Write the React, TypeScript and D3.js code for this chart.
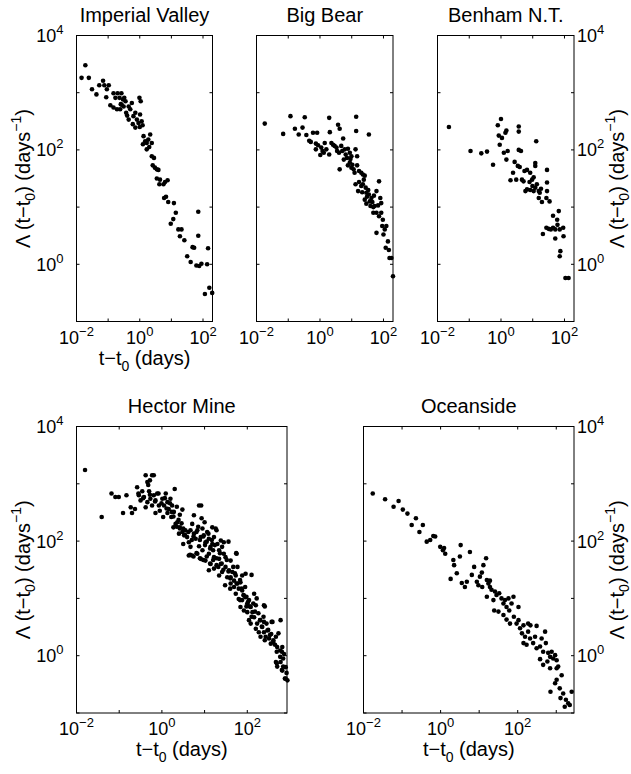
import React, { useEffect, useRef } from "react";
import * as d3 from "d3";

const width = 631;
const height = 774;
const font = "'Liberation Sans', Arial, Helvetica, sans-serif";

// every point as [log10(t - t0 in days), log10(rate in 1/days)]
const imperialValley = [
    [-1.84, 3.26], [-1.72, 3.48], [-1.61, 3.26], [-1.51, 3.06], [-1.37, 2.97], [-1.28, 3.13],
    [-1.16, 3.21], [-1.12, 3.13], [-1.04, 3.06], [-0.98, 3.13], [-1.06, 2.92], [-0.93, 2.78],
    [-0.83, 2.99], [-0.77, 2.91], [-0.70, 2.99], [-0.64, 2.91], [-0.58, 2.99], [-0.53, 2.88],
    [-0.49, 2.91], [-0.45, 2.85], [-0.83, 2.74], [-0.72, 2.71], [-0.62, 2.71], [-0.51, 2.76],
    [-0.43, 2.65], [-0.35, 2.53], [-0.30, 2.71], [-0.25, 2.82], [-0.20, 2.59], [-0.14, 2.65],
    [-0.09, 2.53], [-0.01, 2.91], [0.03, 2.85], [0.01, 2.62], [0.06, 2.50], [-0.04, 2.47],
    [0.09, 2.43], [-0.14, 2.39], [-0.35, 2.76], [-0.57, 2.79], [0.12, 2.24], [0.17, 2.15],
    [0.22, 2.12], [0.33, 2.27], [0.27, 2.18], [0.38, 2.12], [0.22, 2.01], [0.38, 1.89],
    [0.45, 1.86], [0.41, 1.73], [0.48, 1.69], [0.54, 1.66], [0.59, 1.65], [0.54, 1.50],
    [0.64, 1.48], [0.75, 1.40], [0.80, 1.44], [0.88, 1.47], [0.62, 1.40], [0.77, 1.16],
    [0.83, 1.18], [0.90, 1.09], [1.08, 1.07], [1.14, 0.90], [1.06, 0.79], [0.98, 0.71],
    [1.22, 0.61], [1.32, 0.61], [1.27, 0.49], [1.41, 0.42], [1.67, 0.30], [1.72, 0.29],
    [1.85, 0.92], [1.85, 0.50], [1.50, 0.14], [1.61, 0.04], [1.79, -0.02], [1.88, -0.03],
    [1.95, 0.01], [2.13, 0.00], [2.16, 0.28], [2.06, -0.52], [2.20, -0.41], [2.29, -0.50],
    [-0.40, 2.60], [-0.22, 2.45], [0.00, 2.40], [-0.60, 2.80], [0.30, 2.05], [0.10, 2.10]
];

const bigBear = [
    [-1.74, 2.46], [-1.16, 2.28], [-0.93, 2.59], [-0.79, 2.37], [-0.55, 2.39], [-0.48, 2.57],
    [-0.67, 2.27], [-0.43, 2.26], [-0.34, 2.16], [-0.29, 2.14], [-0.22, 2.30], [-0.09, 2.30],
    [-0.13, 2.11], [-0.06, 2.08], [-0.13, 2.01], [0.04, 2.04], [0.08, 1.98], [0.01, 1.91],
    [0.12, 1.95], [0.15, 2.12], [0.20, 2.01], [0.29, 2.56], [0.31, 2.31], [0.36, 2.12],
    [0.41, 2.09], [0.46, 2.07], [0.29, 1.92], [0.52, 2.04], [0.57, 2.44], [0.62, 2.37],
    [0.54, 1.98], [0.60, 1.95], [0.67, 2.07], [0.73, 2.20], [0.78, 2.01], [0.81, 1.92],
    [0.75, 1.83], [0.85, 1.86], [0.88, 2.02], [0.94, 1.95], [0.99, 1.89], [1.14, 2.58],
    [1.14, 2.33], [1.12, 2.01], [1.17, 1.89], [0.94, 1.78], [0.88, 1.73], [0.99, 1.69],
    [1.06, 1.66], [1.09, 1.60], [1.17, 1.73], [1.23, 1.63], [1.30, 1.60], [1.35, 1.57],
    [1.41, 1.55], [1.54, 2.27], [0.62, 1.66], [1.12, 1.40], [1.23, 1.44], [1.30, 1.37],
    [1.35, 1.40], [1.44, 1.34], [1.20, 1.28], [1.33, 1.26], [1.46, 1.25], [1.48, 1.18],
    [1.54, 1.22], [1.62, 1.16], [1.41, 1.13], [1.46, 1.06], [1.57, 1.10], [1.65, 1.09],
    [1.78, 1.28], [1.86, 1.45], [1.72, 1.02], [1.83, 1.03], [1.90, 1.16], [1.93, 1.07],
    [1.68, 0.90], [1.78, 0.90], [1.86, 0.84], [1.93, 0.90], [1.98, 0.78], [1.68, 1.00],
    [1.59, 1.02], [1.78, 0.55], [1.96, 0.67], [2.04, 0.61], [2.09, 0.67], [2.00, 0.52],
    [2.14, 0.40], [2.07, 0.29], [2.17, 0.25], [2.25, 0.11], [2.19, 0.11], [2.30, -0.21],
    [0.70, 1.98], [0.96, 1.84], [1.02, 1.74], [1.38, 1.48], [1.52, 1.30], [1.70, 1.20]
];

const benham = [
    [-1.64, 2.40], [-0.96, 1.98], [-0.62, 1.94], [-0.44, 1.97], [-0.25, 1.74], [-0.10, 2.43],
    [0.00, 2.54], [-0.07, 2.25], [-0.04, 2.09], [0.03, 2.21], [0.14, 2.30], [0.17, 2.34],
    [0.09, 1.95], [0.21, 1.98], [0.17, 1.83], [0.30, 1.47], [0.38, 1.60], [0.48, 1.48],
    [0.43, 1.79], [0.56, 2.41], [0.56, 2.32], [0.56, 2.00], [0.63, 1.98], [0.53, 1.72],
    [0.59, 1.70], [0.66, 1.48], [0.71, 1.45], [0.74, 1.63], [0.82, 1.65], [0.77, 1.28],
    [0.82, 1.31], [0.90, 1.44], [0.92, 1.60], [0.98, 1.48], [1.03, 1.52], [1.08, 1.77],
    [1.08, 1.72], [1.11, 2.15], [0.99, 1.37], [1.08, 1.34], [1.13, 1.40], [1.03, 1.28],
    [0.92, 1.30], [1.19, 1.28], [1.22, 1.25], [1.26, 1.32], [1.19, 1.16], [1.29, 1.09],
    [1.45, 1.65], [1.45, 1.43], [1.45, 1.28], [1.43, 1.16], [1.53, 1.10], [1.82, 0.93],
    [1.64, 0.85], [1.77, 0.78], [1.43, 0.64], [1.50, 0.62], [1.57, 0.61], [1.64, 0.64],
    [1.71, 0.61], [1.78, 0.69], [1.85, 0.61], [1.96, 0.64], [1.32, 0.53], [1.71, 0.45],
    [1.97, 0.49], [1.87, 0.23], [1.85, 0.14], [2.03, -0.24], [2.13, -0.24]
];

const hectorMine = [
    [-1.80, 3.24], [-1.41, 2.42], [-1.18, 2.83], [-1.09, 2.77], [-1.01, 2.77], [-0.91, 2.49],
    [-0.83, 2.80], [-0.73, 2.59], [-0.70, 2.49], [-0.63, 2.56], [-0.58, 2.94], [-0.54, 2.80],
    [-0.50, 2.71], [-0.46, 2.87], [-0.42, 2.77], [-0.38, 3.15], [-0.34, 3.03], [-0.30, 2.87],
    [-0.28, 3.06], [-0.23, 3.15], [-0.19, 3.15], [-0.38, 2.59], [-0.34, 2.68], [-0.27, 2.74],
    [-0.23, 2.62], [-0.19, 2.80], [-0.15, 2.71], [-0.11, 2.83], [-0.07, 2.62], [-0.15, 2.49],
    [-0.05, 2.53], [0.01, 2.74], [0.05, 2.62], [0.09, 2.83], [0.13, 2.68], [0.16, 2.56],
    [0.20, 2.74], [0.24, 2.62], [0.13, 2.49], [0.03, 2.42], [0.22, 2.42], [0.28, 2.51],
    [0.30, 2.91], [0.32, 2.30], [0.27, 2.24], [0.36, 2.33], [0.42, 2.24], [0.48, 2.55],
    [0.48, 2.16], [0.40, 2.13], [0.52, 2.10], [0.55, 2.19], [0.59, 2.07], [0.63, 1.98],
    [0.71, 2.30], [0.67, 2.19], [0.75, 2.13], [0.79, 2.04], [0.83, 2.19], [0.87, 2.62],
    [0.92, 2.62], [0.91, 2.07], [0.95, 2.22], [0.98, 2.10], [1.02, 1.98], [1.06, 2.16],
    [1.10, 2.04], [1.14, 1.90], [1.18, 1.95], [1.22, 2.07], [1.26, 2.22], [1.30, 1.95],
    [1.34, 1.84], [1.38, 2.01], [1.41, 1.90], [1.45, 1.78], [1.49, 1.72], [1.34, 1.69],
    [1.22, 1.72], [1.10, 1.78], [0.95, 1.84], [0.83, 1.78], [0.71, 1.75], [0.63, 1.75],
    [0.91, 1.69], [1.02, 1.66], [1.14, 1.60], [1.22, 1.52], [1.10, 1.49], [1.28, 1.58],
    [1.38, 1.60], [1.49, 1.55], [1.57, 1.49], [1.53, 1.37], [1.61, 1.37], [1.65, 1.46],
    [1.69, 1.31], [1.73, 1.40], [1.75, 1.78], [1.41, 1.46], [1.34, 1.40], [1.61, 1.26],
    [1.69, 1.20], [1.77, 1.26], [1.80, 1.17], [1.84, 1.28], [1.88, 1.14], [1.96, 1.43],
    [1.92, 1.05], [1.73, 1.08], [1.80, 0.99], [1.88, 0.97], [1.96, 1.02], [2.00, 0.91],
    [2.04, 0.97], [2.08, 0.85], [1.84, 0.85], [1.92, 0.79], [2.00, 0.76], [2.12, 0.76],
    [2.20, 0.88], [2.16, 0.67], [2.04, 0.62], [2.08, 0.56], [2.23, 0.56], [2.30, 0.62],
    [2.35, 0.50], [2.39, 0.59], [2.20, 0.47], [2.27, 0.41], [2.39, 0.41], [2.43, 0.33],
    [2.31, 0.33], [2.47, 0.44], [2.51, 0.30], [2.56, 0.38], [2.61, 0.24], [2.55, 0.21],
    [2.67, 0.33], [2.78, 0.62], [2.70, 0.15], [2.77, 0.09], [2.82, 0.15], [2.86, 0.03],
    [2.67, -0.11], [2.70, -0.19], [2.78, -0.11], [2.84, -0.05], [2.90, -0.20], [2.82, -0.26],
    [2.92, -0.30], [2.90, -0.40], [2.94, -0.43], [0.75, 2.45], [1.00, 2.33], [1.18, 2.24],
    [1.45, 1.98], [1.61, 1.66], [1.77, 1.55], [1.88, 1.40], [2.16, 1.08], [2.39, 0.88],
    [2.59, 0.59], [0.67, 1.90], [0.50, 1.95], [0.87, 1.91],
    // second pass over the dense band
    [-0.55, 2.83], [-0.44, 2.75], [-0.32, 2.98], [-0.28, 2.81], [-0.16, 2.69], [-0.08, 2.83],
    [-0.01, 2.66], [0.07, 2.75], [0.11, 2.57], [0.19, 2.66], [0.23, 2.51], [0.27, 2.43],
    [0.35, 2.60], [0.39, 2.37], [0.42, 2.46], [0.46, 2.31], [0.50, 2.22], [0.42, 2.22],
    [0.35, 2.25], [0.54, 2.11], [0.62, 2.16], [0.70, 2.02], [0.74, 2.08], [0.81, 2.16],
    [0.85, 2.25], [0.93, 2.40], [0.89, 2.02], [0.97, 2.08], [1.01, 1.93], [1.05, 1.99],
    [1.09, 2.13], [1.13, 1.87], [1.17, 2.02], [1.20, 1.84], [1.24, 1.93], [1.28, 2.19],
    [0.66, 1.76], [0.74, 1.73], [0.81, 1.79], [0.89, 1.70], [0.97, 1.67], [1.05, 1.73],
    [1.13, 1.61], [1.20, 1.67], [1.28, 1.70], [1.32, 1.55], [1.40, 1.61], [1.44, 1.50],
    [1.36, 1.79], [1.52, 1.67], [1.56, 1.99], [1.56, 1.47], [1.60, 1.35], [1.67, 1.55],
    [1.71, 1.44], [1.74, 1.79], [1.75, 1.26], [1.48, 1.23], [1.60, 1.17], [1.83, 1.32],
    [1.87, 1.17], [1.91, 1.06], [1.95, 1.20], [1.98, 1.03], [2.02, 0.94], [2.10, 1.41],
    [2.06, 0.86], [2.14, 0.91], [2.22, 1.00], [2.18, 0.77], [2.26, 0.74], [2.30, 0.62],
    [2.38, 0.68], [2.41, 0.86], [2.45, 0.56], [2.34, 0.51], [2.49, 0.45], [2.53, 0.36],
    [2.57, 0.59], [2.41, 0.27], [2.61, 0.27], [2.65, 0.19], [2.73, 0.39], [2.69, 0.07],
    [2.77, -0.02], [2.81, 0.07], [2.69, -0.13], [2.84, -0.19], [2.88, -0.40], [2.81, -0.25],
    [1.98, 0.86], [2.10, 0.68], [1.83, 0.97]
];

const oceanside = [
    [-1.76, 2.83], [-1.44, 2.73], [-1.22, 2.60], [-1.09, 2.70], [-0.98, 2.55], [-0.86, 2.48],
    [-0.64, 2.40], [-0.75, 2.28], [-0.55, 2.16], [-0.46, 2.28], [-0.36, 1.99], [-0.27, 2.02],
    [-0.19, 2.09], [-0.14, 2.08], [-0.01, 1.90], [0.06, 1.84], [0.09, 1.88], [0.12, 1.78],
    [0.33, 1.67], [0.35, 1.58], [0.52, 1.93], [0.50, 1.73], [0.26, 1.34], [0.42, 1.44],
    [0.55, 1.27], [0.63, 1.20], [0.68, 1.29], [0.76, 1.81], [0.81, 1.41], [0.87, 1.55],
    [0.94, 1.29], [0.98, 1.23], [1.02, 1.38], [1.07, 1.45], [1.11, 1.58], [1.18, 1.70],
    [1.20, 1.32], [1.24, 1.26], [1.28, 1.31], [1.32, 1.15], [1.28, 1.20], [1.41, 1.12],
    [1.45, 1.06], [1.52, 1.09], [1.58, 1.00], [1.63, 0.91], [1.67, 0.97], [1.71, 0.85],
    [1.76, 1.00], [1.78, 0.79], [1.84, 0.91], [1.39, 0.79], [1.50, 0.77], [1.63, 0.71],
    [1.71, 0.63], [1.80, 0.56], [1.90, 0.68], [1.97, 0.56], [2.02, 0.62], [2.06, 0.48],
    [2.15, 0.53], [2.27, 0.56], [2.33, 0.53], [2.49, 0.52], [2.11, 0.39], [2.19, 0.33],
    [2.27, 0.42], [2.32, 0.30], [2.40, 0.22], [2.23, 0.19], [2.15, 0.22], [2.49, 0.13],
    [2.58, 0.16], [2.66, 0.07], [2.73, 0.22], [2.79, 0.05], [2.84, -0.02], [2.88, 0.07],
    [2.92, -0.05], [2.97, 0.01], [3.01, -0.08], [2.77, -0.10], [2.58, -0.06], [2.66, -0.16],
    [2.84, -0.22], [3.05, -0.19], [3.14, -0.34], [3.01, -0.42], [2.97, -0.48], [2.85, -0.63],
    [3.09, -0.57], [3.18, -0.66], [3.11, -0.74], [3.25, -0.77], [3.31, -0.83], [3.22, -0.89],
    [3.35, -0.86], [3.40, -0.63], [3.01, -0.22], [2.62, 0.30], [2.45, 0.33], [2.71, 0.42],
    [1.89, 1.03], [2.02, 0.85], [1.37, 0.97], [1.20, 1.03], [1.08, 1.20]
];

const titles = ["Imperial Valley", "Big Bear", "Benham N.T.", "Hector Mine", "Oceanside"];
const series = [imperialValley, bigBear, benham, hectorMine, oceanside];
// upper end of each time axis, as a power of ten
const xMaxExp = [2.3, 2.3, 2.3, 2.93, 3.46];
const xTickExps = [-2, 0, 2];
const yTickExps = [0, 2, 4];
const yDomain = [0.1, 1e4];

// left, top, width, height of each plot box
const boxes = [
    [76.5, 35.5, 136, 286],
    [256.5, 35.5, 136.5, 286],
    [437.5, 35.5, 136.5, 286],
    [76.5, 426.5, 210.5, 286.5],
    [363.5, 426.5, 210.5, 286.5]
];
const ySide = ["left", "none", "right", "left", "right"];
const showXLabel = [true, false, false, true, true];

const supText = (e: number) => (e < 0 ? "\u2212" + (-e) : String(e));

function App() {
    const ref = useRef<SVGSVGElement>(null);

    useEffect(() => {
        const svg = d3.select(ref.current);
        svg.selectAll("*").remove();

        series.forEach((data, i) => {
            const [left, top, w, h] = boxes[i];
            const x = d3.scaleLog().domain([1e-2, Math.pow(10, xMaxExp[i])]).range([0, w]);
            const y = d3.scaleLog().domain(yDomain).range([h, 0]);
            const g = svg.append("g").attr("transform", `translate(${left},${top})`);

            // points first, frame on top
            g.selectAll("circle")
                .data(data)
                .enter()
                .append("circle")
                .attr("cx", d => x(Math.pow(10, d[0])))
                .attr("cy", d => y(Math.pow(10, d[1])))
                .attr("r", 2.3)
                .attr("fill", "#000");

            g.append("rect")
                .attr("width", w)
                .attr("height", h)
                .attr("fill", "none")
                .attr("stroke", "#000")
                .attr("stroke-width", 1);

            const tickLen = 3;
            d3.range(-2, Math.floor(xMaxExp[i]) + 1).forEach(e => {
                const tx = x(Math.pow(10, e));
                g.append("line").attr("x1", tx).attr("x2", tx).attr("y1", h).attr("y2", h - tickLen).attr("stroke", "#000");
                g.append("line").attr("x1", tx).attr("x2", tx).attr("y1", 0).attr("y2", tickLen).attr("stroke", "#000");
            });
            d3.range(-1, 5).forEach(e => {
                const ty = y(Math.pow(10, e));
                g.append("line").attr("x1", 0).attr("x2", tickLen).attr("y1", ty).attr("y2", ty).attr("stroke", "#000");
                g.append("line").attr("x1", w).attr("x2", w - tickLen).attr("y1", ty).attr("y2", ty).attr("stroke", "#000");
            });

            // x tick labels
            xTickExps.forEach(e => {
                const t = g.append("text")
                    .attr("x", x(Math.pow(10, e)))
                    .attr("y", h + 22)
                    .attr("text-anchor", "middle")
                    .attr("font-family", font)
                    .attr("font-size", 18);
                t.append("tspan").text("10");
                t.append("tspan").attr("dy", -8).attr("font-size", 13).text(supText(e));
            });

            // y tick labels
            if (ySide[i] !== "none") {
                yTickExps.forEach(e => {
                    const onLeft = ySide[i] === "left";
                    const t = g.append("text")
                        .attr("x", onLeft ? -13 : w + 3)
                        .attr("y", y(Math.pow(10, e)) + 6.5)
                        .attr("text-anchor", onLeft ? "end" : "start")
                        .attr("font-family", font)
                        .attr("font-size", 18);
                    t.append("tspan").text("10");
                    t.append("tspan").attr("dy", -8).attr("font-size", 13).text(supText(e));
                });

                const lx = ySide[i] === "left" ? 30 - left : 624 - left;
                const yl = g.append("text")
                    .attr("transform", `translate(${lx},${h / 2}) rotate(-90)`)
                    .attr("text-anchor", "middle")
                    .attr("font-family", font)
                    .attr("font-size", 20);
                yl.append("tspan").text("\u039B (t\u2212t");
                yl.append("tspan").attr("dy", 5).attr("font-size", 14).text("0");
                yl.append("tspan").attr("dy", -5).text(") (days");
                yl.append("tspan").attr("dy", -9).attr("font-size", 14).text("\u22121");
                yl.append("tspan").attr("dy", 9).text(")");
            }

            if (showXLabel[i]) {
                const xl = g.append("text")
                    .attr("x", w / 2)
                    .attr("y", h + 43)
                    .attr("text-anchor", "middle")
                    .attr("font-family", font)
                    .attr("font-size", 20);
                xl.append("tspan").text("t\u2212t");
                xl.append("tspan").attr("dy", 6).attr("font-size", 14).text("0");
                xl.append("tspan").attr("dy", -6).text(" (days)");
            }

            g.append("text")
                .attr("x", w / 2)
                .attr("y", -13.5)
                .attr("text-anchor", "middle")
                .attr("font-family", font)
                .attr("font-size", 20)
                .text(titles[i]);
        });
    }, []);

    return (
        <svg
            ref={ref}
            width={width}
            height={height}
            style={{position: "absolute", left: 0, top: 0, background: "#fff"}}
        />
    );
}

export default App;
